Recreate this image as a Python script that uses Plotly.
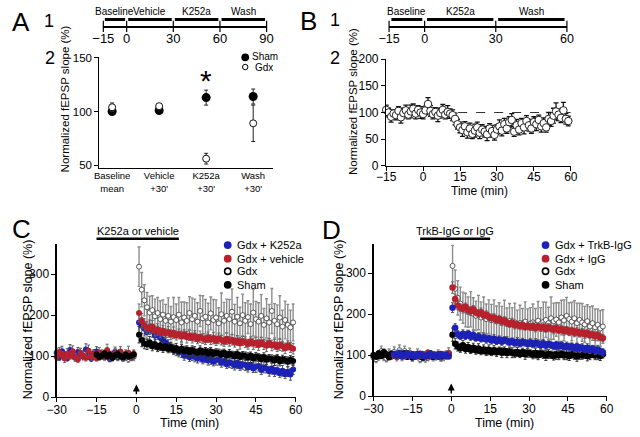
import plotly.graph_objects as go

W, H = 640, 437
FONT = "Arial, Liberation Sans, sans-serif"

# ---------------- Panel A ----------------
a1_ticks = [-15, 0, 30, 60, 90]
a1_phases = ["Baseline", "Vehicle", "K252a", "Wash"]
a1_start = [-15, 0, 30, 60]
a1_end = [0, 30, 60, 90]

a_categories = ["Baseline<br>mean", "Vehicle<br>+30'", "K252a<br>+30'", "Wash<br>+30'"]
a_sham = [100, 101, 113, 114]
a_sham_err = [2, 2, 7, 7]
a_gdx = [104, 105, 56, 89]
a_gdx_err = [4, 2, 5, 17]
a_yticks = [50, 100, 150]

# ---------------- Panel B ----------------
b1_ticks = [-15, 0, 30, 60]
b1_phases = ["Baseline", "K252a", "Wash"]
b1_start = [-15, 0, 30]
b1_end = [0, 30, 60]

b_time = list(range(-15, 60))
b_gdx = [105, 100, 92, 98, 95, 103, 91, 99, 104, 96,
         102, 107, 98, 105, 100, 97, 104, 116, 103, 97,
         101, 94, 99, 105, 96, 101, 98, 95, 88, 78,
         72, 67, 74, 63, 70, 60, 66, 72, 62, 68,
         64, 59, 70, 65, 58, 68, 74, 66, 78, 70,
         82, 86, 64, 76, 68, 80, 72, 84, 76, 70,
         82, 78, 86, 74, 80, 72, 88, 84, 94, 102,
         96, 90, 104, 88, 84]
b_gdx_err = [9, 8, 10, 7, 9, 8, 11, 9, 10, 8,
             12, 9, 10, 8, 11, 9, 8, 12, 10, 9,
             8, 11, 9, 10, 8, 12, 9, 10, 11, 9,
             10, 12, 9, 11, 10, 9, 12, 10, 11, 9,
             10, 12, 9, 11, 10, 9, 12, 10, 11, 9,
             10, 12, 9, 11, 10, 9, 12, 10, 11, 9,
             10, 12, 9, 11, 10, 9, 12, 10, 14, 16,
             11, 9, 15, 10, 9]
b_reference = 100

# ---------------- Panel C ----------------
c_treatment = [-15, 16]
c_post_t = list(range(1, 60))

c_blue_base_t = list(range(-30, 0))
c_blue_base = [108, 97, 112, 101, 95, 115, 103, 96, 110, 104, 99, 116, 102, 94, 107,
               111, 98, 105, 100, 109, 93, 103, 110, 98, 104, 95, 106, 101, 97, 103]
c_blue_base_err = [10, 8, 12, 9, 7, 13, 10, 8, 11, 9, 8, 14, 10, 7, 9,
                   12, 8, 10, 9, 11, 7, 9, 12, 8, 10, 7, 9, 8, 7, 9]
c_blue_post = [182, 174, 167, 158, 171, 161, 150, 157, 146, 139,
               133, 127, 121, 117, 113, 108, 110, 101, 106, 97,
               102, 98, 94, 100, 91, 96, 89, 93, 86, 90,
               92, 84, 88, 80, 85, 82, 77, 84, 75, 80,
               78, 72, 79, 70, 74, 76, 66, 72, 69, 63,
               70, 61, 66, 58, 64, 56, 62, 55, 67]
c_blue_post_err = [24, 20, 18, 16, 17, 15, 14, 16, 13, 14,
                   12, 13, 11, 12, 12, 10, 13, 11, 12, 10,
                   13, 12, 11, 14, 10, 12, 11, 13, 10, 12,
                   14, 11, 12, 10, 13, 12, 11, 14, 10, 12,
                   13, 11, 12, 10, 14, 12, 11, 13, 10, 12,
                   14, 11, 12, 10, 13, 11, 12, 14, 12]

c_red_base_t = list(range(-30, 0))
c_red_base = [98, 110, 103, 94, 106, 100, 112, 97, 92, 108, 101, 96, 113, 99, 104,
              95, 109, 102, 98, 114, 100, 96, 107, 103, 111, 97, 102, 108, 99, 105]
c_red_base_err = [9, 11, 8, 10, 12, 7, 13, 9, 8, 11, 10, 8, 14, 9, 10,
                  7, 12, 9, 8, 15, 10, 8, 11, 9, 12, 8, 9, 16, 8, 10]
c_red_post = [205, 186, 176, 170, 166, 172, 161, 165, 157, 162,
              155, 159, 152, 157, 150, 154, 148, 153, 146, 150,
              144, 149, 141, 147, 143, 139, 146, 140, 144, 137,
              143, 139, 135, 142, 136, 140, 133, 138, 131, 137,
              134, 129, 136, 130, 133, 127, 134, 128, 125, 132,
              126, 129, 122, 128, 124, 119, 126, 121, 118]
c_red_post_err = [22, 18, 15, 14, 13, 15, 12, 14, 12, 13,
                  11, 13, 12, 14, 11, 12, 13, 11, 14, 12,
                  12, 13, 11, 14, 12, 11, 13, 12, 14, 11,
                  13, 12, 11, 14, 12, 13, 11, 12, 14, 11,
                  13, 12, 11, 14, 12, 13, 11, 12, 14, 11,
                  13, 12, 11, 14, 12, 13, 11, 12, 13]

c_sham_base_t = list(range(-15, 0))
c_sham_base = [104, 98, 101, 107, 99, 103, 96, 102, 105, 100, 97, 103, 99, 101, 104]
c_sham_base_err = [7, 6, 8, 7, 6, 8, 7, 6, 9, 7, 6, 8, 7, 6, 8]
c_sham_post = [152, 139, 131, 128, 134, 124, 129, 121, 126, 119,
               124, 117, 122, 115, 120, 113, 118, 112, 116, 110,
               115, 111, 108, 114, 109, 112, 106, 111, 105, 109,
               107, 103, 108, 101, 106, 103, 99, 105, 98, 102,
               100, 96, 101, 94, 99, 97, 92, 98, 91, 95,
               93, 89, 95, 87, 92, 90, 86, 91, 88]
c_sham_post_err = [20, 16, 13, 12, 14, 11, 12, 10, 12, 10,
                   11, 9, 12, 10, 11, 9, 10, 12, 9, 11,
                   10, 12, 9, 11, 10, 9, 12, 10, 11, 9,
                   10, 12, 9, 11, 10, 9, 12, 10, 11, 9,
                   10, 12, 9, 11, 10, 9, 12, 10, 11, 9,
                   10, 12, 9, 11, 10, 9, 12, 10, 11]

c_gdx_base_t = list(range(-8, 0))
c_gdx_base = [101, 97, 104, 95, 99, 93, 96, 98]
c_gdx_base_err = [9, 8, 10, 7, 9, 8, 7, 9]
c_gdx_post = [318, 262, 236, 219, 206, 212, 197, 205, 190, 201,
              186, 198, 184, 195, 188, 201, 182, 194, 186, 205,
              190, 198, 184, 210, 192, 196, 182, 204, 188, 194,
              180, 202, 186, 198, 190, 208, 184, 196, 180, 200,
              186, 195, 178, 206, 190, 184, 198, 176, 192, 182,
              210, 186, 178, 194, 172, 188, 176, 170, 182]
c_gdx_post_err = [48, 42, 38, 36, 40, 35, 42, 38, 45, 36,
                  40, 44, 37, 48, 39, 42, 50, 38, 44, 40,
                  52, 41, 46, 38, 55, 42, 47, 40, 50, 43,
                  38, 52, 45, 41, 48, 56, 42, 47, 39, 51,
                  44, 40, 49, 57, 43, 46, 52, 40, 48, 44,
                  55, 42, 47, 53, 40, 46, 50, 42, 45]

# ---------------- Panel D ----------------
d_treatment = [-12, 15]
d_post_t = [i + 0.5 for i in range(59)]

d_sham_base_t = list(range(-30, 0))
d_sham_base = [100, 96, 104, 98, 107, 101, 95, 103, 99, 97, 102, 98, 104, 96, 100,
               95, 99, 102, 97, 94, 100, 98, 103, 96, 99, 101, 97, 100, 98, 102]
d_sham_base_err = [6, 5, 7, 6, 8, 6, 5, 7, 6, 5, 7, 6, 7, 5, 6,
                   5, 6, 7, 5, 6, 6, 5, 7, 5, 6, 7, 5, 6, 5, 7]
d_sham_post = [150, 128, 121, 117, 124, 115, 120, 113, 118, 112,
               116, 110, 114, 109, 113, 108, 112, 107, 111, 106,
               110, 105, 109, 106, 104, 108, 103, 107, 102, 106,
               104, 101, 105, 100, 104, 102, 99, 103, 101, 98,
               102, 100, 103, 99, 101, 98, 102, 100, 97, 101,
               99, 102, 98, 100, 103, 99, 101, 98, 102]
d_sham_post_err = [16, 13, 11, 10, 12, 10, 11, 9, 11, 10,
                   12, 9, 11, 10, 12, 9, 11, 10, 9, 12,
                   10, 11, 9, 12, 10, 11, 9, 10, 12, 11,
                   9, 10, 12, 11, 9, 10, 12, 11, 9, 10,
                   12, 11, 9, 10, 12, 11, 9, 10, 12, 11,
                   9, 10, 12, 11, 9, 10, 12, 11, 9]

d_blue_base_t = list(range(-22, 0))
d_blue_base = [103, 99, 105, 97, 101, 104, 98, 102, 96, 100, 103,
               99, 97, 101, 104, 98, 100, 96, 102, 99, 101, 97]
d_blue_base_err = [6, 5, 7, 5, 6, 7, 5, 6, 5, 6, 7, 5, 6, 5, 7, 6, 5, 6, 7, 5, 6, 5]
d_blue_post = [216, 167, 151, 146, 152, 147, 153, 145, 149, 142,
               146, 140, 144, 138, 141, 136, 140, 134, 138, 133,
               137, 135, 131, 134, 129, 133, 128, 132, 130, 127,
               131, 126, 130, 128, 124, 129, 123, 127, 125, 122,
               126, 121, 125, 120, 123, 119, 122, 117, 121, 116,
               119, 114, 118, 113, 116, 111, 114, 109, 107]
d_blue_post_err = [12, 10, 9, 8, 10, 9, 8, 9, 10, 8,
                   9, 8, 10, 9, 8, 9, 10, 8, 9, 9,
                   8, 10, 9, 8, 9, 10, 8, 9, 8, 10,
                   9, 8, 10, 9, 8, 9, 10, 8, 9, 9,
                   8, 10, 9, 8, 9, 10, 8, 9, 8, 10,
                   9, 8, 10, 9, 8, 9, 10, 8, 9]

d_red_base_t = list(range(-22, 0))
d_red_base = [101, 97, 103, 100, 98, 104, 99, 102, 97, 101, 100,
              103, 98, 105, 99, 102, 100, 97, 103, 101, 99, 104]
d_red_base_err = [6, 7, 5, 6, 7, 5, 6, 7, 5, 6, 7, 5, 6, 8, 5, 6, 7, 5, 6, 7, 5, 6]
d_red_post = [265, 237, 221, 216, 213, 218, 210, 207, 212, 204,
              201, 205, 197, 199, 193, 190, 192, 186, 188, 182,
              184, 179, 176, 180, 173, 175, 171, 174, 169, 172,
              168, 171, 166, 170, 167, 169, 164, 168, 165, 162,
              166, 161, 164, 159, 162, 157, 160, 155, 158, 153,
              156, 151, 154, 149, 151, 146, 149, 144, 142]
d_red_post_err = [14, 12, 10, 9, 10, 9, 8, 10, 9, 8,
                  9, 10, 8, 9, 8, 10, 9, 8, 9, 10,
                  8, 9, 8, 10, 9, 8, 9, 10, 8, 9,
                  8, 10, 9, 8, 9, 10, 8, 9, 8, 10,
                  9, 8, 9, 10, 8, 9, 8, 10, 9, 8,
                  9, 10, 8, 9, 8, 10, 9, 8, 9]

d_gdx_base_t = list(range(-30, 0))
d_gdx_base = [94, 90, 98, 110, 96, 92, 104, 100, 108, 95, 112, 97, 110, 101, 106,
              93, 99, 104, 90, 96, 92, 94, 100, 95, 98, 102, 93, 96, 100, 106]
d_gdx_base_err = [9, 8, 10, 12, 9, 8, 11, 10, 12, 9, 13, 10, 12, 10, 11,
                  8, 9, 11, 8, 10, 9, 8, 10, 9, 10, 11, 8, 9, 10, 12]
d_gdx_post = [318, 262, 240, 226, 216, 210, 205, 212, 201, 196,
              204, 192, 198, 188, 194, 185, 190, 182, 186, 179,
              188, 176, 183, 175, 180, 172, 178, 174, 182, 171,
              177, 180, 173, 184, 176, 181, 186, 178, 190, 183,
              187, 180, 192, 185, 196, 188, 182, 190, 178, 186,
              180, 175, 183, 170, 178, 168, 174, 165, 170]
d_gdx_post_err = [50, 46, 42, 40, 38, 41, 37, 43, 39, 36,
                  42, 38, 44, 37, 41, 39, 45, 38, 42, 40,
                  46, 39, 43, 41, 47, 38, 44, 40, 48, 42,
                  39, 45, 41, 47, 40, 49, 43, 39, 52, 44,
                  41, 48, 42, 50, 45, 40, 47, 43, 49, 41,
                  46, 44, 40, 48, 42, 45, 39, 44, 41]

cd_xticks = [-30, -15, 0, 15, 30, 45, 60]
cd_yticks = [0, 100, 200, 300]
b_xticks = [-15, 0, 15, 30, 45, 60]
b_yticks = [0, 50, 100, 150, 200]

# ---------------- styling ----------------
BLUE = "#1c22b8"
RED = "#b8202c"
BLACK = "#000000"


def px(x):
    return x / W


def py(y):
    return 1 - y / H


def xdom(a, b):
    return [px(a), px(b)]


def ydom(top, bottom):
    return [py(bottom), py(top)]


fig = go.Figure()


def series(xa, ya, x, y, err, fill, size, line_color=None, line_w=0,
           err_color="#444", err_w=1, cap=1.5):
    fig.add_trace(go.Scatter(
        x=x, y=y, mode="markers", xaxis=xa, yaxis=ya, cliponaxis=False,
        showlegend=False, hoverinfo="skip",
        marker=dict(size=size, color=fill,
                    line=dict(color=line_color or fill, width=line_w)),
        error_y=dict(type="data", array=err, visible=True, color=err_color,
                     thickness=err_w, width=cap),
    ))


# ---- A2
series("x", "y", [0, 1, 2, 3], a_sham, a_sham_err, BLACK, 9, err_color="#222", cap=2)
series("x", "y", [0, 1, 2, 3], a_gdx, a_gdx_err, "white", 7, line_color="#111",
       line_w=1, err_color="#222", cap=2)

# ---- timelines A1 / B1 (tick marks crossing the line)
for ticks, xa, ya in [(a1_ticks, "x5", "y5"), (b1_ticks, "x6", "y6")]:
    fig.add_trace(go.Scatter(x=ticks, y=[0] * len(ticks), xaxis=xa, yaxis=ya,
                             mode="markers", cliponaxis=False, showlegend=False,
                             hoverinfo="skip",
                             marker=dict(symbol="line-ns-open", size=8, color="black",
                                         line=dict(color="black", width=1.2))))

# ---- B2
series("x2", "y2", b_time, b_gdx, b_gdx_err, "white", 7.5, line_color="#222",
       line_w=1, err_color="#111", err_w=1.3, cap=2.5)

# ---- C (draw order: Gdx, blue, red, sham)
series("x3", "y3", c_gdx_base_t + c_post_t, c_gdx_base + c_gdx_post,
       c_gdx_base_err + c_gdx_post_err, "white", 5, line_color="#333", line_w=0.8,
       err_color="#8c8c8c", err_w=1.4, cap=1.5)
series("x3", "y3", c_blue_base_t + c_post_t, c_blue_base + c_blue_post,
       c_blue_base_err + c_blue_post_err, BLUE, 6, err_color="#555")
series("x3", "y3", c_red_base_t + c_post_t, c_red_base + c_red_post,
       c_red_base_err + c_red_post_err, RED, 6, err_color="#666")
series("x3", "y3", c_sham_base_t + c_post_t, c_sham_base + c_sham_post,
       c_sham_base_err + c_sham_post_err, BLACK, 6, err_color="#333")

# ---- D (draw order: Gdx, sham, red, blue)
series("x4", "y4", d_gdx_base_t + d_post_t, d_gdx_base + d_gdx_post,
       d_gdx_base_err + d_gdx_post_err, "white", 5, line_color="#333", line_w=0.8,
       err_color="#8c8c8c", err_w=1.4, cap=1.5)
series("x4", "y4", d_sham_base_t + d_post_t, d_sham_base + d_sham_post,
       d_sham_base_err + d_sham_post_err, BLACK, 6.5, err_color="#333")
series("x4", "y4", d_red_base_t + d_post_t, d_red_base + d_red_post,
       d_red_base_err + d_red_post_err, RED, 6.5, err_color="#666")
series("x4", "y4", d_blue_base_t + d_post_t, d_blue_base + d_blue_post,
       d_blue_base_err + d_blue_post_err, BLUE, 6.5, err_color="#555")

# ---------------- axes ----------------
tickfont = dict(family=FONT, size=12, color="black")
base_axis = dict(showgrid=False, zeroline=False, showline=True, linecolor="black",
                 linewidth=1.2, ticks="outside", ticklen=4, tickwidth=1,
                 tickcolor="black", tickfont=tickfont, fixedrange=True)

layout_axes = dict(
    # A2
    xaxis=dict(base_axis, domain=xdom(91, 270), range=[-0.27, 3.43], anchor="y",
               tickvals=[0, 1, 2, 3], ticktext=a_categories, ticks="",
               ticklabelstandoff=-1,
               tickfont=dict(family=FONT, size=9.5, color="black")),
    yaxis=dict(base_axis, domain=ydom(52, 166), range=[47.6, 150.6], anchor="x",
               tickvals=a_yticks, tickfont=dict(family=FONT, size=11.5, color="black")),
    # B2
    xaxis2=dict(base_axis, domain=xdom(386, 576), range=[-15, 60], anchor="y2",
                tickvals=b_xticks, ticklabelstandoff=-4),
    yaxis2=dict(base_axis, domain=ydom(54, 164), range=[0, 200], anchor="x2",
                tickvals=b_yticks),
    # C
    xaxis3=dict(base_axis, domain=xdom(47, 293), range=[-30, 60], anchor="y3",
                tickvals=cd_xticks, ticklabelstandoff=-3),
    yaxis3=dict(base_axis, domain=ydom(245, 403), range=[0, 373], anchor="x3",
                tickvals=cd_yticks),
    # D
    xaxis4=dict(base_axis, domain=xdom(373, 613), range=[-30, 60], anchor="y4",
                tickvals=cd_xticks, ticklabelstandoff=-3),
    yaxis4=dict(base_axis, domain=ydom(245, 402), range=[0, 371], anchor="x4",
                tickvals=cd_yticks),
    # A1 timeline
    xaxis5=dict(base_axis, domain=xdom(95, 263), range=[-15, 90], anchor="y5",
                tickvals=a1_ticks, ticks="", ticklen=0,
                tickfont=dict(family=FONT, size=13, color="black")),
    yaxis5=dict(domain=ydom(0, 20), range=[0, 2], anchor="x5", visible=False,
                fixedrange=True),
    # B1 timeline
    xaxis6=dict(base_axis, domain=xdom(389, 572), range=[-15, 60], anchor="y6",
                tickvals=b1_ticks, ticks="", ticklen=0,
                tickfont=dict(family=FONT, size=12.5, color="black")),
    yaxis6=dict(domain=ydom(0, 20), range=[0, 2], anchor="x6", visible=False,
                fixedrange=True),
)

shapes = []
annotations = []


def text(x, y, s, size, xanchor="center", yanchor="middle", angle=0, xref="paper",
         yref="paper"):
    annotations.append(dict(x=x, y=y, xref=xref, yref=yref, text=s, showarrow=False,
                            xanchor=xanchor, yanchor=yanchor, textangle=angle,
                            borderpad=0,
                            font=dict(family=FONT, size=size, color="black")))


# timeline phase bars + labels
for names, starts, ends, xa, ya in [(a1_phases, a1_start, a1_end, "x5", "y5"),
                                    (b1_phases, b1_start, b1_end, "x6", "y6")]:
    for n, s, e in zip(names, starts, ends):
        shapes.append(dict(type="line", xref=xa, yref=ya, x0=s + 1, x1=e - 1,
                           y0=0.7, y1=0.7, line=dict(color="black", width=3)))
        text((s + e) / 2, 1.5, n, 10, xref=xa, yref=ya)

# B2 dashed reference line
shapes.append(dict(type="line", xref="x2", yref="y2", x0=-15, x1=60,
                   y0=b_reference, y1=b_reference, layer="below",
                   line=dict(color="black", width=0.8, dash="dash")))

# C / D treatment bars
for xa, (s, e), lab in [("x3", c_treatment, "K252a or vehicle"),
                        ("x4", d_treatment, "TrkB-IgG or IgG")]:
    shapes.append(dict(type="line", xref=xa, yref="paper", x0=s, x1=e,
                       y0=py(239.5), y1=py(239.5), line=dict(color="black", width=2.5)))
    text((s + e) / 2, py(231), lab, 11, xref=xa)

# arrows at t = 0
for xa, ya in [("x3", "y3"), ("x4", "y4")]:
    annotations.append(dict(x=0, y=31, ax=0, ay=3, xref=xa, yref=ya, axref=xa,
                            ayref=ya, showarrow=True, arrowhead=2, arrowsize=1,
                            arrowwidth=1.4, arrowcolor="black", text=""))

# panel letters & sub numbers
text(px(0), py(15), "A", 26, xanchor="left")
text(px(33), py(14), "1", 18, xanchor="left")
text(px(34), py(53), "2", 18, xanchor="left")
text(px(296), py(14), "B", 26, xanchor="left")
text(px(327), py(13), "1", 18, xanchor="left")
text(px(327), py(53), "2", 18, xanchor="left")
text(px(0), py(229), "C", 26, xanchor="left")
text(px(319), py(230), "D", 26, xanchor="left")

# axis titles
ytitle = "Normalized fEPSP slope (%)"
text(px(56), py(95), ytitle, 11.5, angle=-90)
text(px(352), py(98), ytitle, 11.5, angle=-90)
text(px(17), py(323), ytitle, 12.5, angle=-90)
text(px(337), py(323), ytitle, 12.5, angle=-90)
text(px(482), py(190), "Time (min)", 12)
text(px(184), py(430), "Time (min)", 12.5)
text(px(508), py(430), "Time (min)", 12.5)

# asterisk over K252a
text(2, 129, "*", 30, xref="x", yref="y")


# legends (drawn manually)
def legend_dot(cx, cy, r, fill, line_color, lw):
    shapes.append(dict(type="circle", xref="paper", yref="paper",
                       x0=px(cx - r), x1=px(cx + r), y0=py(cy + r), y1=py(cy - r),
                       fillcolor=fill, line=dict(color=line_color, width=lw)))


legend_dot(241, 52, 4, BLACK, BLACK, 0)
text(px(247), py(51), "Sham", 10, xanchor="left")
legend_dot(241, 62, 2.8, "white", BLACK, 1)
text(px(250), py(62), "Gdx", 10, xanchor="left")

c_leg_labels = ["Gdx + K252a", "Gdx + vehicle", "Gdx", "Sham"]
d_leg_labels = ["Gdx + TrkB-IgG", "Gdx + IgG", "Gdx", "Sham"]
leg_fill = [BLUE, RED, "white", BLACK]
leg_y = [246, 260, 273, 287]
for labels, cx, tx in [(c_leg_labels, 223, 231), (d_leg_labels, 550, 559)]:
    for lab, f, yy in zip(labels, leg_fill, leg_y):
        if f == "white":
            legend_dot(cx, yy, 3.2, "white", BLACK, 1.6)
        else:
            legend_dot(cx, yy, 4, f, f, 0)
        text(px(tx), py(yy), lab, 11, xanchor="left")

fig.update_layout(
    width=W, height=H, margin=dict(l=0, r=0, t=0, b=0),
    paper_bgcolor="white", plot_bgcolor="white", showlegend=False,
    font=dict(family=FONT, color="black"),
    shapes=shapes, annotations=annotations, **layout_axes,
)

fig.write_html("out.html", include_plotlyjs=True, full_html=True,
               config={"displayModeBar": False, "staticPlot": True},
               post_script="document.body.style.margin='0';")
